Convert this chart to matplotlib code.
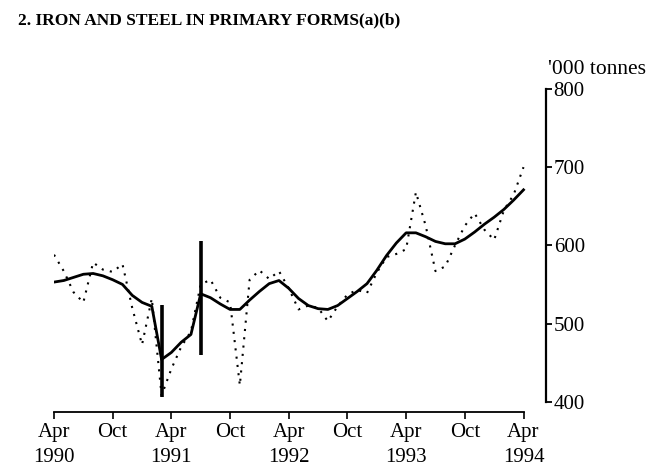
import matplotlib
matplotlib.use("Agg")
import matplotlib.pyplot as plt
import numpy as np

# months since Apr 1990 (0 .. 48 = Apr 1994)
months = np.arange(49)

# original series, '000 tonnes (dotted)
original = [588, 567, 540, 527, 578, 569, 566, 576, 520, 473,
            532, 408, 442, 470, 490, 550, 556, 533, 527, 421,
            556, 568, 557, 567, 545, 518, 523, 520, 503, 522,
            537, 543, 539, 565, 585, 589, 595, 668, 625, 567,
            573, 600, 625, 641, 620, 607, 645, 665, 700]

# trend series (solid)
trend = [553, 555, 559, 563, 564, 561, 556, 550, 536, 527,
         522, 454, 463, 476, 486, 538, 533, 525, 518, 518,
         530, 541, 551, 555, 545, 532, 523, 519, 518, 523,
         532, 541, 551, 568, 587, 603, 616, 616, 611, 605,
         602, 602, 608, 617, 627, 636, 646, 658, 671]

# break markers: month, low, high
breaks_month = [11, 15]
breaks_low = [406, 460]
breaks_high = [524, 605]

tick_months = [0, 6, 12, 18, 24, 30, 36, 42, 48]
tick_labels = ["Apr\n1990", "Oct", "Apr\n1991", "Oct", "Apr\n1992",
               "Oct", "Apr\n1993", "Oct", "Apr\n1994"]
y_ticks = [400, 500, 600, 700, 800]

plt.rcParams['font.family'] = ['Liberation Serif', 'DejaVu Serif']

fig = plt.figure(figsize=(6.66, 4.67), dpi=100)
ax = fig.add_axes([54/666, 55/467, (546-54)/666, (412-89)/467])

ax.plot(months, original, color='black', linestyle=(0, (1, 3)), linewidth=1.5)
ax.plot(months, trend, color='black', linewidth=2.0)
ax.vlines(breaks_month, breaks_low, breaks_high, color='black', linewidth=2.6)

ax.set_xlim(0, 50.3)
ax.set_ylim(386.8, 800)

for s in ['top', 'left']:
    ax.spines[s].set_visible(False)
ax.spines['right'].set_bounds(400, 800)
ax.spines['bottom'].set_bounds(0, 48)
ax.spines['right'].set_linewidth(1.6)
ax.spines['bottom'].set_linewidth(1.3)

ax.yaxis.tick_right()
ax.set_yticks(y_ticks)
ax.tick_params(axis='y', direction='out', length=4, width=1.3, pad=1.5, labelsize=15)
ax.set_xticks(tick_months)
ax.set_xticklabels(tick_labels, linespacing=1.45)
ax.tick_params(axis='x', direction='out', length=5, width=1.2, pad=3, labelsize=15)

fig.text(548/666, 1 - 69/467, "'000 tonnes", fontsize=15.5, ha='left', va='center')
fig.text(18/666, 1 - 20/467, "2. IRON AND STEEL IN PRIMARY FORMS(a)(b)",
         fontsize=12.5, fontweight='bold', ha='left', va='center')

fig.savefig("out.png", dpi=100)
